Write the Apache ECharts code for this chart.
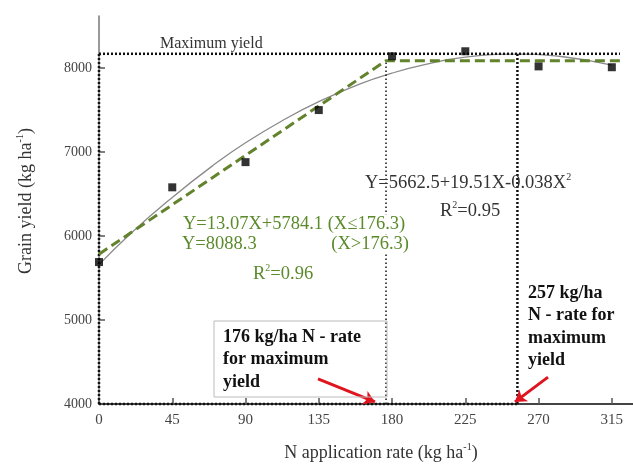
<!DOCTYPE html>
<html>
<head>
<meta charset="utf-8">
<script src="https://cdn.jsdelivr.net/npm/echarts@6/dist/echarts.min.js"></script>
<style>
  html, body { margin: 0; padding: 0; background: #fff; }
  #chart { width: 633px; height: 464px; }
</style>
</head>
<body>
<div id="chart"></div>
<script>
// Measured grain yield at each N application rate
const rates = [0, 45, 90, 135, 180, 225, 270, 315];
const grainYield = [5690, 6580, 6880, 7500, 8140, 8200, 8020, 8010];

// Quadratic response curve (Y = 5662.5 + 19.51X - 0.038X^2)
const curveRates = [0, 20, 45, 70, 90, 115, 135, 160, 180, 200, 225, 257, 285, 315];
const curveYield = [5660, 6040, 6460, 6840, 7110, 7400, 7600, 7810, 7940, 8040, 8130, 8165, 8135, 8035];

// Linear-plateau model: Y = 13.07X + 5784.1 (X <= 176.3), Y = 8088.3 (X > 176.3)
const plateauRates = [0, 176.3, 320];
const plateauYield = [5784.1, 8088.3, 8088.3];

// Reference levels
const maxYield = 8170;
const linearOptimum = 176.3;
const quadOptimum = 257;
const lineEnd = 320;

// Axis ticks
const xTicks = [0, 45, 90, 135, 180, 225, 270, 315];
const yTicks = [4000, 5000, 6000, 7000, 8000];

// Pointer arrows towards the two optimum rates
const arrows = [
  [[134.5, 4300], [169.5, 4025]],
  [[275.8, 4320], [255.5, 4025]]
];

const serif = '"Liberation Serif", "DejaVu Serif", serif';
const green = '#5a8a2a';

const chart = echarts.init(document.getElementById('chart'), null, { renderer: 'canvas' });

const pairs = (xs, ys) => xs.map((x, i) => [x, ys[i]]);
const dotted = (name, pts, width, dash) => ({
  name, type: 'line', data: pts, symbol: 'none', clip: false, silent: true,
  lineStyle: { color: '#111', width: width, type: dash }, z: 4
});
const supRich = (color) => ({
  a: { fontFamily: serif, fontSize: 18.5, fill: color, lineHeight: 22 },
  s: { fontFamily: serif, fontSize: 10, fill: color, verticalAlign: 'top', lineHeight: 12 }
});

chart.setOption({
  animation: false,
  backgroundColor: '#fff',
  grid: { left: 99, right: 0, top: 16, bottom: 60, containLabel: false, outerBoundsMode: 'none' },
  xAxis: {
    type: 'value', min: 0, max: 328, interval: 45,
    name: '{a|N application rate (kg ha}{s|-1}{a|)}',
    nameLocation: 'middle', nameGap: 38,
    nameTextStyle: {
      padding: [0, 0, 0, 30],
      rich: {
        a: { fontFamily: serif, fontSize: 18, color: '#333', lineHeight: 22 },
        s: { fontFamily: serif, fontSize: 10, color: '#333', verticalAlign: 'top', lineHeight: 12 }
      }
    },
    axisLine: { show: true, onZero: false, lineStyle: { color: '#444', width: 2 } },
    axisTick: { show: true, inside: true, length: 6, customValues: xTicks, lineStyle: { color: '#555', width: 1.5 } },
    axisLabel: { customValues: xTicks, margin: 9, fontFamily: serif, fontSize: 15, color: '#444' },
    splitLine: { show: false }
  },
  yAxis: {
    type: 'value', min: 4000, max: 8620, interval: 1000,
    name: '{a|Grain yield (kg ha}{s|-1}{a|)}',
    nameLocation: 'middle', nameGap: 62, nameRotate: 90,
    nameTextStyle: {
      padding: [0, 0, 0, 18],
      rich: {
        a: { fontFamily: serif, fontSize: 18, color: '#333', lineHeight: 22 },
        s: { fontFamily: serif, fontSize: 10, color: '#333', verticalAlign: 'top', lineHeight: 12 }
      }
    },
    axisLine: { show: true, onZero: false, lineStyle: { color: '#777', width: 1.5 } },
    axisTick: { show: true, inside: true, length: 6, customValues: yTicks, lineStyle: { color: '#555', width: 1.5 } },
    axisLabel: {
      customValues: yTicks, margin: 7, fontFamily: serif, fontSize: 14, color: '#444',
      formatter: (v) => String(v)
    },
    splitLine: { show: false }
  },
  series: [
    {
      name: 'Quadratic fit', type: 'line', data: pairs(curveRates, curveYield),
      smooth: true, symbol: 'none', silent: true,
      lineStyle: { color: '#8a8a8a', width: 1.3 }, z: 2
    },
    dotted('Maximum yield', [[0, maxYield], [lineEnd, maxYield]], 2.5, [2, 2]),
    dotted('Left frame', [[0, 4000], [0, maxYield]], 2.5, [2, 2]),
    dotted('Base frame', [[0, 4000], [quadOptimum, 4000]], 2.5, [2, 2]),
    dotted('Quadratic optimum', [[quadOptimum, 4000], [quadOptimum, maxYield]], 2.5, [2, 2]),
    dotted('Linear optimum', [[linearOptimum, 4000], [linearOptimum, plateauYield[1]]], 1.5, [1.5, 2.5]),
    {
      name: 'Linear-plateau fit', type: 'line', data: pairs(plateauRates, plateauYield),
      symbol: 'none', clip: false, silent: true,
      lineStyle: { color: '#62822c', width: 3, type: [10, 5] }, z: 5
    },
    {
      name: 'Observed', type: 'scatter', data: pairs(rates, grainYield),
      symbol: 'rect', symbolSize: 8, clip: false,
      itemStyle: { color: '#000' }, z: 6
    },
    {
      name: 'Pointers', type: 'lines', coordinateSystem: 'cartesian2d',
      data: arrows.map(c => ({ coords: c })),
      symbol: ['none', 'arrow'], symbolSize: [0, 11], silent: true,
      lineStyle: { color: '#e0141e', width: 3, opacity: 1, curveness: 0 }, z: 7
    }
  ],
  graphic: [
    {
      type: 'text', x: 160, y: 44, z: 10,
      style: { text: 'Maximum yield', font: '16px ' + serif, fill: '#333', verticalAlign: 'middle' }
    },
    {
      type: 'text', x: 365, y: 183, z: 10,
      style: { text: '{a|Y=5662.5+19.51X-0.038X}{s|2}', verticalAlign: 'middle', rich: supRich('#333') }
    },
    {
      type: 'text', x: 440, y: 211, z: 10,
      style: { text: '{a|R}{s|2}{a|=0.95}', verticalAlign: 'middle', rich: supRich('#333') }
    },
    {
      type: 'text', x: 182, y: 224, z: 10,
      style: {
        text: 'Y=13.07X+5784.1 (X≤176.3)', font: '18.5px ' + serif, fill: green,
        verticalAlign: 'middle', backgroundColor: '#fff', padding: [0, 1]
      }
    },
    {
      type: 'text', x: 182, y: 244, z: 10,
      style: { text: 'Y=8088.3', font: '18.5px ' + serif, fill: green, verticalAlign: 'middle' }
    },
    {
      type: 'text', x: 410, y: 244, z: 10,
      style: {
        text: '(X>176.3)', font: '18.5px ' + serif, fill: green, align: 'right',
        verticalAlign: 'middle', backgroundColor: '#fff', padding: [0, 1]
      }
    },
    {
      type: 'text', x: 253, y: 274, z: 10,
      style: { text: '{a|R}{s|2}{a|=0.96}', verticalAlign: 'middle', rich: supRich(green) }
    },
    {
      type: 'rect', z: 9, silent: true,
      shape: { x: 214, y: 321, width: 173, height: 76 },
      style: { fill: 'none', stroke: '#bbb', lineWidth: 1 }
    },
    {
      type: 'text', x: 223, y: 326, z: 10,
      style: {
        text: '176 kg/ha N - rate\nfor maximum\nyield',
        font: 'bold 18px ' + serif, fill: '#111', lineHeight: 22.5, verticalAlign: 'top'
      }
    },
    {
      type: 'text', x: 528, y: 282, z: 10,
      style: {
        text: '257 kg/ha\nN - rate for\nmaximum\nyield',
        font: 'bold 18px ' + serif, fill: '#111', lineHeight: 22.5, verticalAlign: 'top'
      }
    }
  ]
});
</script>
</body>
</html>
